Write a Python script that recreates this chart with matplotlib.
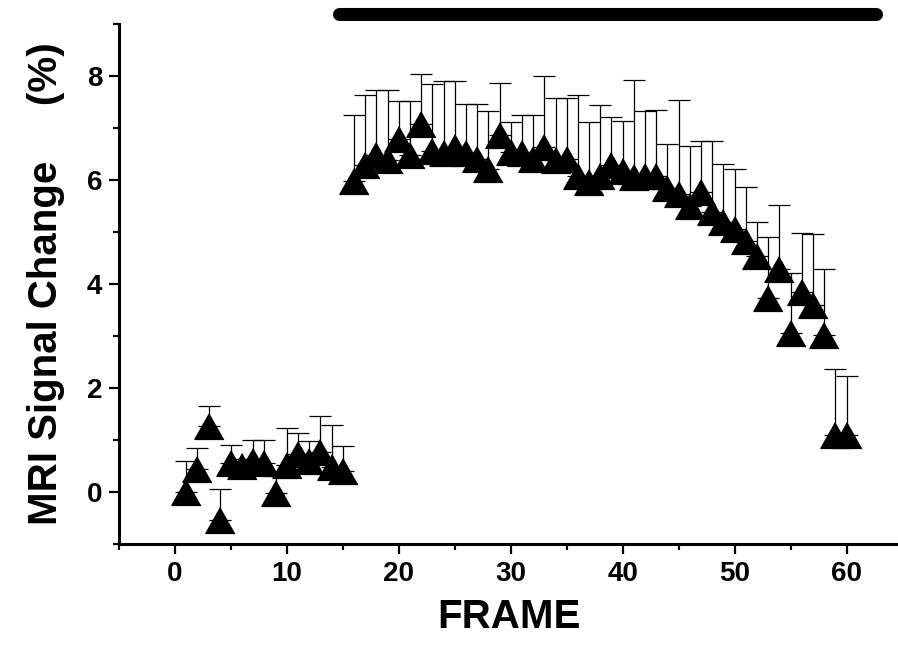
import numpy as np
import matplotlib.pyplot as plt
from matplotlib.ticker import MultipleLocator

plt.rcParams['font.family'] = ['Liberation Sans', 'DejaVu Sans']
plt.rcParams['font.weight'] = 'bold'

## MRI signal per frame (mean, upper error)
frames = list(range(1, 61))
signal = [0.00, 0.44, 1.27, -0.53, 0.56, 0.51, 0.60, 0.55, -0.01, 0.52,
          0.73, 0.60, 0.77, 0.49, 0.40,
          5.98, 6.28, 6.48, 6.39, 6.78, 6.48, 7.07, 6.56, 6.52, 6.63,
          6.52, 6.41, 6.21, 6.86, 6.54, 6.52, 6.41, 6.63, 6.38, 6.40,
          6.08, 5.96, 6.07, 6.29, 6.18, 6.06, 6.07, 6.08, 5.84, 5.74,
          5.51, 5.77, 5.39, 5.20, 5.05, 4.83, 4.54, 3.74, 4.29, 3.05,
          3.84, 3.60, 3.02, 1.09, 1.09]
error = [0.59, 0.41, 0.39, 0.59, 0.35, 0.13, 0.40, 0.45, 0.31, 0.71,
         0.41, 0.39, 0.70, 0.79, 0.49,
         1.28, 1.35, 1.25, 1.35, 0.74, 1.04, 0.96, 1.28, 1.38, 1.27,
         0.95, 1.06, 1.11, 1.01, 0.58, 0.74, 0.84, 1.37, 1.19, 1.17,
         1.56, 1.16, 1.37, 0.92, 0.96, 1.87, 1.25, 1.26, 0.86, 1.80,
         1.15, 0.99, 1.37, 1.11, 1.17, 1.04, 0.65, 1.16, 1.23, 1.16,
         1.14, 1.36, 1.27, 1.27, 1.15]

# stimulation period (bar on top)
stim = [14.7, 62.6]
stim_level = 9.2

fig = plt.figure(figsize=(8.98, 6.5), dpi=100)
ax = fig.add_axes([0.1325, 0.163, 0.8675, 0.800])

# triangle marker, a bit flatter than default
tri = [(0, 0.443), (-0.5, -0.443), (0.5, -0.443)]

lower = np.zeros(len(error))
ax.errorbar(frames, signal, yerr=[lower, error], fmt='none', ecolor='black',
            elinewidth=0.9, capsize=7.9, capthick=0.9, zorder=2)
ax.plot(frames, signal, linestyle='none', marker=tri, ms=21, color='black',
        zorder=3)

ax.plot(stim, [stim_level, stim_level], color='black', lw=9.4,
        solid_capstyle='round', clip_on=False)

ax.set_xlim(-5, 64.6)
ax.set_ylim(-1, 9)
ax.xaxis.set_major_locator(MultipleLocator(10))
ax.xaxis.set_minor_locator(MultipleLocator(5))
ax.yaxis.set_major_locator(MultipleLocator(2))
ax.yaxis.set_minor_locator(MultipleLocator(1))

for s in ['top', 'right']:
    ax.spines[s].set_visible(False)
for s in ['left', 'bottom']:
    ax.spines[s].set_linewidth(2.2)

ax.tick_params(which='major', direction='out', length=7, width=1.6,
               labelsize=20, pad=5)
ax.tick_params(which='minor', direction='out', length=4, width=1.6)

ax.set_xlabel('FRAME', fontsize=29, fontweight='bold', labelpad=8)
ax.set_ylabel('MRI Signal Change     (%)', fontsize=29, fontweight='bold',
              labelpad=16)

fig.savefig('out.png', dpi=100)
